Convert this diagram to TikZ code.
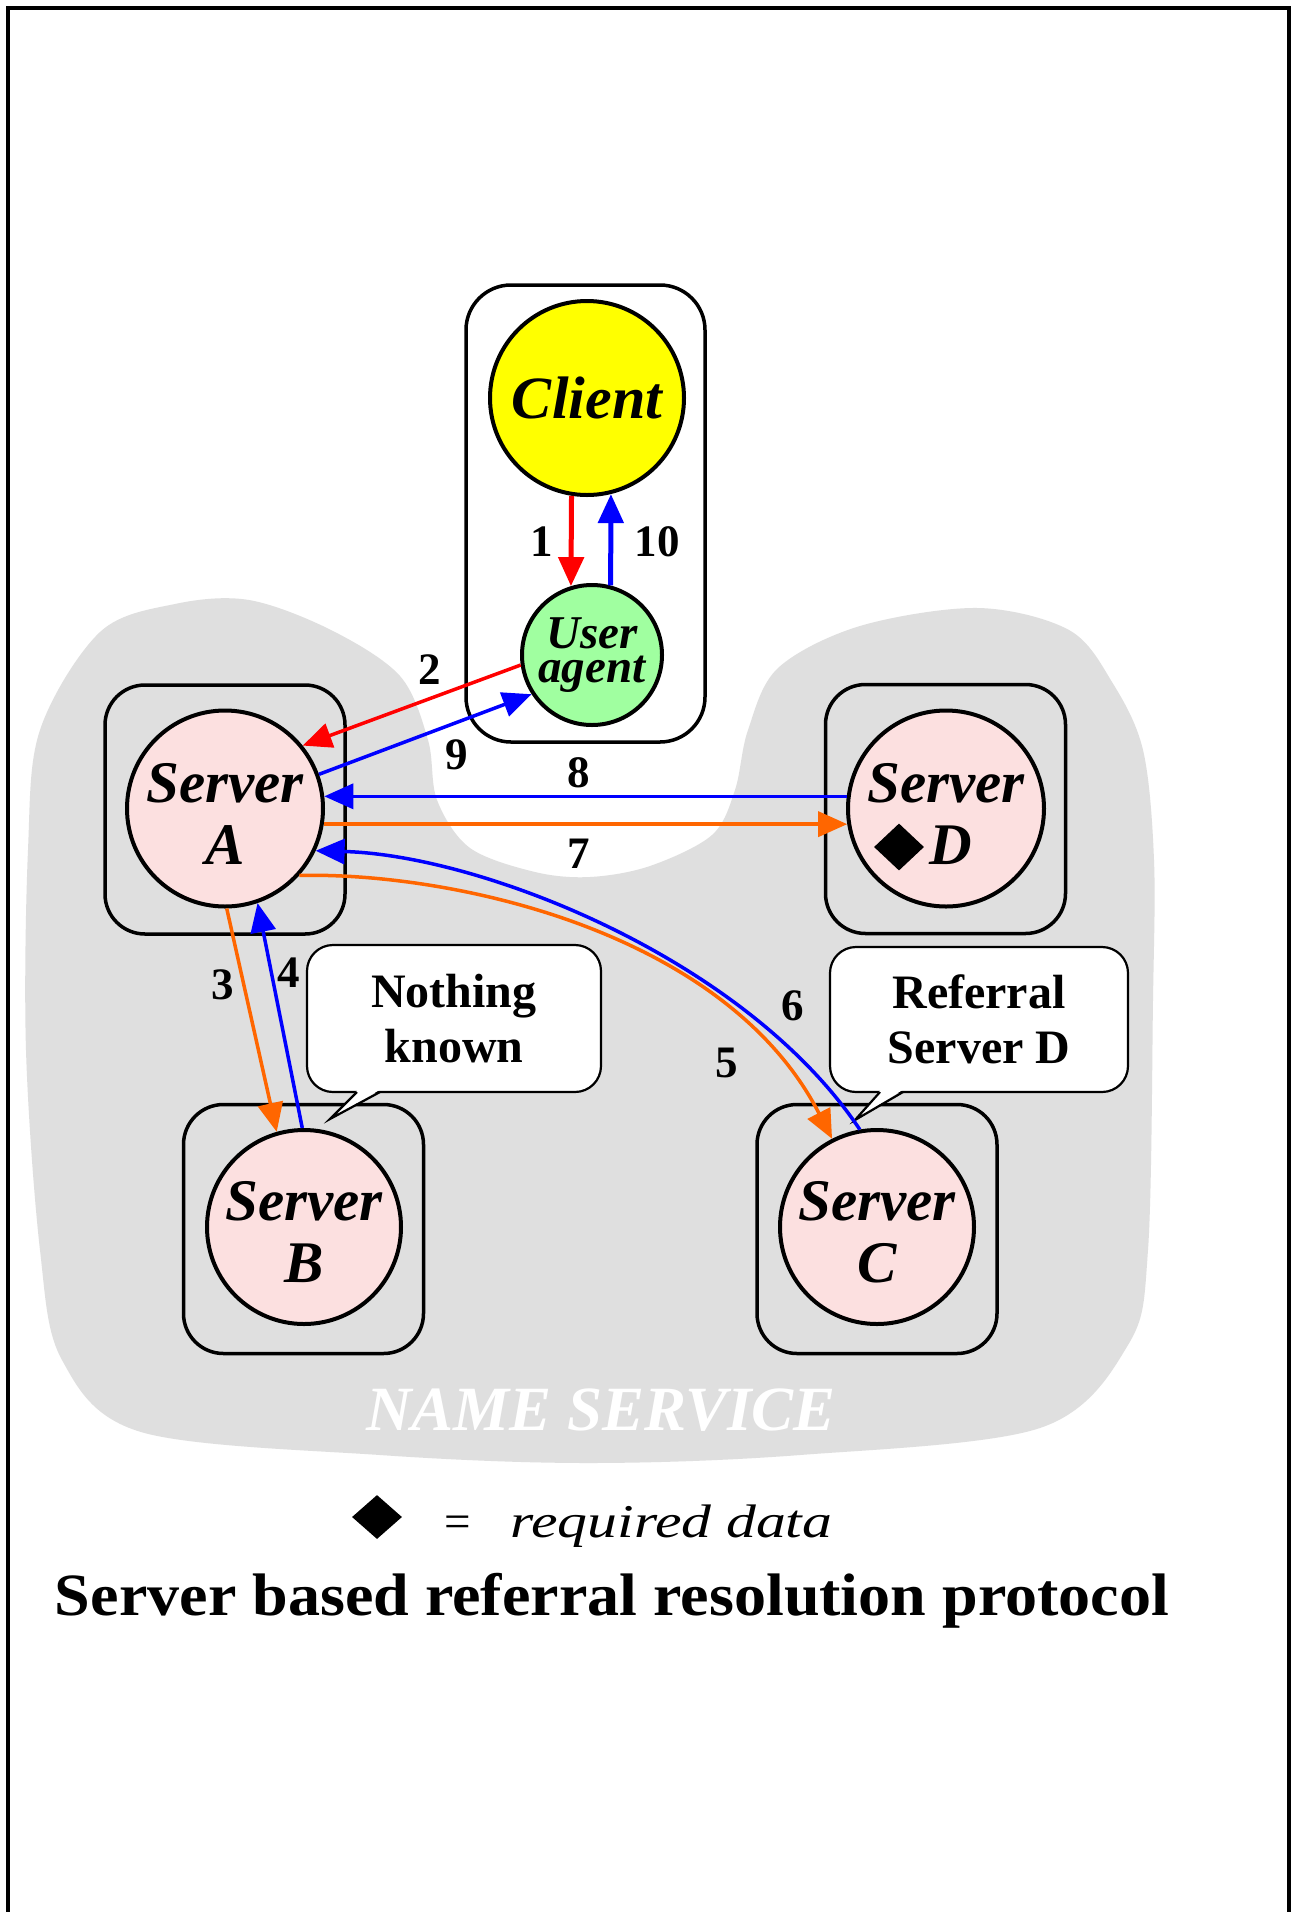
\documentclass[tikz,border=0pt]{standalone}
\usepackage{fontspec}
\setmainfont{Liberation Serif}
\usepackage{graphicx}
\usetikzlibrary{arrows.meta,calc,shapes.geometric}
\definecolor{cyellow}{HTML}{FFFF00}
\definecolor{cgreen}{HTML}{A0FFA0}
\definecolor{cpink}{HTML}{FCE0E0}
\definecolor{cgray}{HTML}{DFDFDF}
\definecolor{corange}{HTML}{FF6600}
\definecolor{cred}{HTML}{FF0000}
\definecolor{cblue}{HTML}{0000FF}
\begin{document}
\begin{tikzpicture}[x=1pt,y=-1pt,
  outerframe/.style={draw=black,line width=3.2pt},
  hostbox/.style={draw=black,line width=3.5pt,rounded corners=40pt,minimum width=240pt,minimum height=249pt,inner sep=0pt},
  srv/.style={circle,draw=black,line width=4pt,fill=cpink,minimum size=196pt,inner sep=0pt,align=center,font=\fontsize{59}{62}\selectfont\bfseries\itshape},
  num/.style={font=\fontsize{45}{45}\selectfont\bfseries,inner sep=0pt},
  flow/.style={line width=3.5pt,-{Triangle[length=29pt,width=25pt]}},
  bubble/.style={draw=black,line width=2.2pt,fill=white,rounded corners=26pt,minimum width=294pt,minimum height=147pt,align=center,font=\fontsize{48}{55}\selectfont\bfseries,inner sep=0pt,outer sep=0pt},
  tail/.style={draw=black,line width=2.2pt,line join=miter}
]
\useasboundingbox (0,0) rectangle (1295,1912);
\fill[white] (0,0) rectangle (1295,1912);
\draw[outerframe] (8,8) rectangle (1289,1990);

% name service blob
\fill[cgray] plot[smooth cycle, tension=0.55] coordinates {
 (249,600) (331,630) (400,676) (428,740) (437,800) (470,848) (535,872)
 (590,877) (650,866) (712,835) (735,790) (748,730) (778,668) (860,626)
 (978,608) (1069,630) (1112,682) (1143,750) (1154,860) (1153,1000)
 (1148,1250) (1128,1345) (1040,1428) (800,1455) (588,1463) (380,1455)
 (141,1432) (62,1360) (40,1250) (26,1050) (28,850) (40,730) (100,632) (175,604)};
\node[anchor=base,inner sep=0pt,text=white,font=\fontsize{63}{63}\selectfont\bfseries\itshape] (ns) at (601,1430) {NAME SERVICE};

% client box
\node[hostbox,fill=white,minimum width=239pt,minimum height=457pt,rounded corners=45pt] (cbox) at (585.5,513.5) {};
\node[circle,draw=black,line width=4pt,fill=cyellow,minimum size=194pt,inner sep=0pt,font=\fontsize{60}{60}\selectfont\bfseries\itshape] (client) at (587,398) {Client};
\node[circle,draw=black,line width=4pt,fill=cgreen,minimum size=140pt,inner sep=0pt,align=center,font=\fontsize{47}{34}\selectfont\bfseries\itshape] (ua) at (592,655) {User\\agent};

% server boxes
\node[hostbox] (Abox) at (225,809.5) {};
\node[hostbox] (Dbox) at (945.5,809) {};
\node[hostbox] (Bbox) at (303.5,1229) {};
\node[hostbox] (Cbox) at (877,1229) {};

% servers
\node[srv] (A) at (225,808.5) {\rule{0pt}{50pt}Server\\A};
\node[srv] (D) at (946,808.5) {\rule{0pt}{50pt}Server\\\hspace*{54pt}D\hspace*{45pt}};
\node[diamond,fill=black,minimum width=50pt,minimum height=47pt,inner sep=0pt] (dmd) at (899,847) {};
\node[srv,minimum size=194pt] (B) at (304,1227) {\rule{0pt}{50pt}Server\\B};
\node[srv,minimum size=194pt] (C) at (877,1227) {\rule{0pt}{50pt}Server\\C};

% callouts
\node[bubble] (nk) at (454,1018.5) {Nothing\\known};
\coordinate (nkt1) at ($(nk.south west)+(50,0)$);
\coordinate (nkt2) at ($(nk.south west)+(73,0)$);
\coordinate (nktip) at ($(nk.south west)+(23,27)$);
\fill[white] ($(nkt1)+(0.5,-2)$) -- (nktip) -- ($(nkt2)+(-0.5,-2)$) -- cycle;
\draw[tail] (nkt1) -- (nktip) -- (nkt2);

\node[bubble,minimum width=298pt,minimum height=145pt] (rs) at (979,1019.5) {Referral\\Server D};
\coordinate (rst1) at ($(rs.south west)+(50,0)$);
\coordinate (rst2) at ($(rs.south west)+(73,0)$);
\coordinate (rstip) at ($(rs.south west)+(25,28)$);
\fill[white] ($(rst1)+(0.5,-2)$) -- (rstip) -- ($(rst2)+(-0.5,-2)$) -- cycle;
\draw[tail] (rst1) -- (rstip) -- (rst2);

% connectors
\draw[flow,cred,line width=5pt] (client.-99) -- (ua.107);
\draw[flow,cblue,line width=5pt] (ua.75) -- (client.-76);
\draw[flow,cred] (ua.188) -- (A.39);
\draw[flow,cblue] (A.20) -- (ua.213);
\draw[flow,cblue] (D.173) -- (A.7);
\draw[flow,corange] (A.-9) -- (D.189);
\draw[flow,cblue] (C.100) .. controls (745,958) and (480,855) .. (A.-25);
\draw[flow,corange] (A.-42) .. controls (450,872) and (725,930) .. (C.117);
\draw[flow,corange] (A.-89) -- (B.106);
\draw[flow,cblue] (B.91) -- (A.-71);

% step numbers
\node[num] (n1) at (542,542) {1};
\node[num] (n10) at (657,542) {10};
\node[num] (n2) at (430,670) {2};
\node[num] (n9) at (457,755) {9};
\node[num] (n8) at (579,773) {8};
\node[num] (n7) at (579,854) {7};
\node[num] (n3) at (223,985) {3};
\node[num] (n4) at (289,973) {4};
\node[num] (n5) at (727,1063) {5};
\node[num] (n6) at (793,1006) {6};

% legend and title
\node[diamond,fill=black,minimum width=50pt,minimum height=44pt,inner sep=0pt] (key) at (377,1517) {};
\node[anchor=base,inner sep=0pt,font=\fontsize{47}{47}\selectfont] (eq) at (457.5,1537) {=};
\node[anchor=base west,inner sep=0pt,font=\fontsize{47}{47}\selectfont\itshape] (req) at (510,1537) {\scalebox{1.27}[1]{required data}};
\node[anchor=base,inner sep=0pt,font=\fontsize{60}{60}\selectfont\bfseries] (title) at (612,1615) {\scalebox{1.068}[1]{Server based referral resolution protocol}};
\end{tikzpicture}
\end{document}
